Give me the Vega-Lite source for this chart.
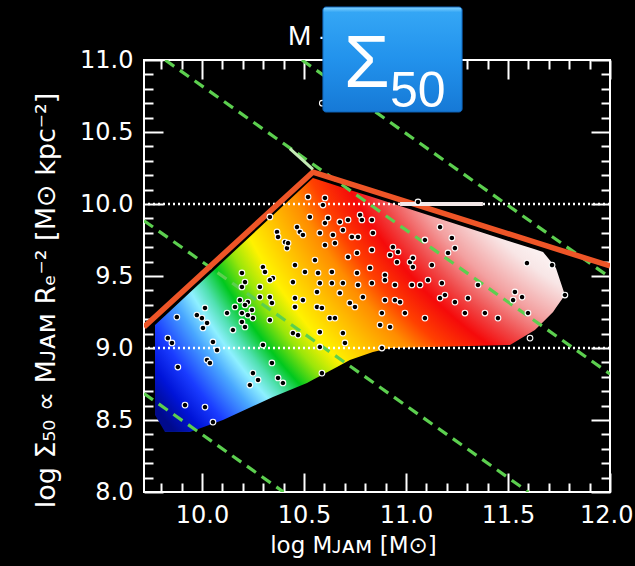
{
  "$schema": "https://vega.github.io/schema/vega-lite/v6.json",
  "width": 466,
  "height": 432,
  "autosize": "none",
  "padding": {"left": 144, "top": 60, "right": 25, "bottom": 74},
  "background": "black",
  "config": {
    "view": {"stroke": "white", "strokeWidth": 2},
    "axis": {
      "domain": false,
      "grid": false,
      "tickColor": "white",
      "tickWidth": 2,
      "labelColor": "white",
      "labelFont": "DejaVu Sans",
      "labelFontSize": 24,
      "labelOverlap": false,
      "labelBound": false,
      "labelFlush": false,
      "titleColor": "white",
      "titleFont": "DejaVu Sans",
      "titleFontWeight": "normal"
    }
  },
  "datasets": {
    "region": [
      {"x": 9.770, "top": 9.160, "bottom": 8.535},
      {"x": 9.819, "top": 9.224, "bottom": 8.417},
      {"x": 9.941, "top": 9.386, "bottom": 8.417},
      {"x": 10.103, "top": 9.599, "bottom": 8.500},
      {"x": 10.348, "top": 9.922, "bottom": 8.660},
      {"x": 10.515, "top": 10.142, "bottom": 8.757},
      {"x": 10.544, "top": 10.181, "bottom": 8.779},
      {"x": 10.662, "top": 10.127, "bottom": 8.868},
      {"x": 10.725, "top": 10.098, "bottom": 8.917},
      {"x": 10.838, "top": 10.047, "bottom": 8.972},
      {"x": 10.922, "top": 10.008, "bottom": 9.000},
      {"x": 11.510, "top": 9.740, "bottom": 9.021},
      {"x": 11.632, "top": 9.685, "bottom": 9.125},
      {"x": 11.672, "top": 9.667, "bottom": 9.181},
      {"x": 11.721, "top": 9.581, "bottom": 9.250},
      {"x": 11.735, "top": 9.556, "bottom": 9.280},
      {"x": 11.779, "top": 9.368, "bottom": 9.368}
    ],
    "guides": [
      {"g": "A", "x": 9.82, "y": 11.0}, {"g": "A", "x": 12.0, "y": 8.82},
      {"g": "B", "x": 10.49, "y": 11.0}, {"g": "B", "x": 12.0, "y": 9.49},
      {"g": "C", "x": 9.716, "y": 9.884}, {"g": "C", "x": 11.6, "y": 8.0},
      {"g": "D", "x": 9.716, "y": 8.684}, {"g": "D", "x": 10.4, "y": 8.0}
    ],
    "boundary": [
      {"x": 9.716, "y": 9.146},
      {"x": 10.544, "y": 10.222},
      {"x": 12.0, "y": 9.57}
    ],
    "ridge": [
      {"x": 10.431, "y": 10.385},
      {"x": 10.544, "y": 10.24}
    ],
    "levels": [{"y": 9.0}, {"y": 10.0}],
    "bar": [{"x": 10.971, "x2": 11.377, "y": 10.0}],
    "galaxies": [
      {"x": 10.333, "y": 9.910}, {"x": 10.368, "y": 9.806}, {"x": 10.373, "y": 9.771}, {"x": 10.407, "y": 9.736},
      {"x": 10.417, "y": 9.694}, {"x": 10.299, "y": 9.562}, {"x": 10.309, "y": 9.528}, {"x": 10.348, "y": 9.486},
      {"x": 10.333, "y": 9.472}, {"x": 10.284, "y": 9.424}, {"x": 10.196, "y": 9.521}, {"x": 10.211, "y": 9.458},
      {"x": 10.196, "y": 9.424}, {"x": 10.284, "y": 9.354}, {"x": 10.333, "y": 9.354}, {"x": 10.343, "y": 9.313},
      {"x": 10.186, "y": 9.333}, {"x": 10.225, "y": 9.319}, {"x": 10.162, "y": 9.285}, {"x": 10.211, "y": 9.299},
      {"x": 10.245, "y": 9.264}, {"x": 10.196, "y": 9.243}, {"x": 10.123, "y": 9.243}, {"x": 10.225, "y": 9.229},
      {"x": 10.250, "y": 9.208}, {"x": 10.333, "y": 9.194}, {"x": 10.196, "y": 9.181}, {"x": 10.211, "y": 9.146},
      {"x": 10.152, "y": 9.125}, {"x": 10.015, "y": 9.278}, {"x": 9.975, "y": 9.229}, {"x": 10.000, "y": 9.208},
      {"x": 10.025, "y": 9.174}, {"x": 10.005, "y": 9.139}, {"x": 9.877, "y": 9.215}, {"x": 9.833, "y": 9.069},
      {"x": 9.853, "y": 9.035}, {"x": 10.054, "y": 9.042}, {"x": 10.074, "y": 8.986}, {"x": 10.025, "y": 8.917},
      {"x": 10.039, "y": 8.896}, {"x": 9.882, "y": 8.868}, {"x": 10.343, "y": 8.896}, {"x": 10.250, "y": 8.826},
      {"x": 10.275, "y": 8.778}, {"x": 10.235, "y": 8.743}, {"x": 10.373, "y": 8.792}, {"x": 10.397, "y": 8.757},
      {"x": 9.917, "y": 8.604}, {"x": 10.015, "y": 8.590}, {"x": 10.054, "y": 8.486}, {"x": 10.299, "y": 9.021},
      {"x": 10.520, "y": 10.049}, {"x": 10.603, "y": 10.042}, {"x": 10.593, "y": 9.993}, {"x": 10.529, "y": 9.910},
      {"x": 10.618, "y": 9.903}, {"x": 10.603, "y": 9.868}, {"x": 10.676, "y": 9.875}, {"x": 10.716, "y": 9.889},
      {"x": 10.775, "y": 9.924}, {"x": 10.784, "y": 9.889}, {"x": 10.833, "y": 9.889}, {"x": 10.466, "y": 9.840},
      {"x": 10.480, "y": 9.806}, {"x": 10.495, "y": 9.785}, {"x": 10.578, "y": 9.799}, {"x": 10.642, "y": 9.785},
      {"x": 10.691, "y": 9.819}, {"x": 10.735, "y": 9.771}, {"x": 10.765, "y": 9.771}, {"x": 10.838, "y": 9.799},
      {"x": 10.422, "y": 9.729}, {"x": 10.603, "y": 9.715}, {"x": 10.652, "y": 9.729}, {"x": 10.716, "y": 9.632},
      {"x": 10.760, "y": 9.660}, {"x": 10.833, "y": 9.681}, {"x": 10.936, "y": 9.701}, {"x": 10.961, "y": 9.667},
      {"x": 10.922, "y": 9.646}, {"x": 10.554, "y": 9.611}, {"x": 10.956, "y": 9.597}, {"x": 11.020, "y": 9.597},
      {"x": 11.034, "y": 9.562}, {"x": 10.456, "y": 9.576}, {"x": 10.505, "y": 9.528}, {"x": 10.569, "y": 9.521},
      {"x": 10.637, "y": 9.528}, {"x": 10.760, "y": 9.521}, {"x": 10.824, "y": 9.556}, {"x": 10.897, "y": 9.507},
      {"x": 10.897, "y": 9.472}, {"x": 10.446, "y": 9.458}, {"x": 10.578, "y": 9.451}, {"x": 10.637, "y": 9.451},
      {"x": 10.691, "y": 9.451}, {"x": 10.765, "y": 9.438}, {"x": 10.833, "y": 9.451}, {"x": 10.946, "y": 9.438},
      {"x": 11.029, "y": 9.438}, {"x": 10.564, "y": 9.389}, {"x": 10.676, "y": 9.382}, {"x": 10.789, "y": 9.354},
      {"x": 10.456, "y": 9.347}, {"x": 10.495, "y": 9.333}, {"x": 10.897, "y": 9.333}, {"x": 10.946, "y": 9.333},
      {"x": 10.971, "y": 9.319}, {"x": 10.456, "y": 9.285}, {"x": 10.564, "y": 9.285}, {"x": 10.588, "y": 9.278},
      {"x": 10.725, "y": 9.313}, {"x": 10.750, "y": 9.285}, {"x": 10.627, "y": 9.208}, {"x": 10.652, "y": 9.208},
      {"x": 10.446, "y": 9.104}, {"x": 10.471, "y": 9.090}, {"x": 10.578, "y": 9.111}, {"x": 10.691, "y": 9.104},
      {"x": 10.701, "y": 9.035}, {"x": 10.578, "y": 9.007}, {"x": 10.882, "y": 9.243}, {"x": 10.995, "y": 9.243},
      {"x": 10.873, "y": 9.160}, {"x": 10.922, "y": 9.146}, {"x": 10.882, "y": 9.000}, {"x": 10.588, "y": 8.826},
      {"x": 11.059, "y": 10.014}, {"x": 11.167, "y": 9.840}, {"x": 11.093, "y": 9.750}, {"x": 11.225, "y": 9.764},
      {"x": 11.240, "y": 9.694}, {"x": 11.206, "y": 9.660}, {"x": 11.127, "y": 9.576}, {"x": 11.593, "y": 9.590},
      {"x": 11.716, "y": 9.576}, {"x": 11.108, "y": 9.472}, {"x": 11.069, "y": 9.438}, {"x": 11.176, "y": 9.451},
      {"x": 11.167, "y": 9.347}, {"x": 11.191, "y": 9.368}, {"x": 11.240, "y": 9.319}, {"x": 11.304, "y": 9.347},
      {"x": 11.289, "y": 9.243}, {"x": 11.387, "y": 9.243}, {"x": 11.451, "y": 9.208}, {"x": 11.093, "y": 9.208},
      {"x": 11.534, "y": 9.389}, {"x": 11.525, "y": 9.333}, {"x": 11.569, "y": 9.354}, {"x": 11.779, "y": 9.368},
      {"x": 11.598, "y": 9.243}, {"x": 11.608, "y": 9.069}, {"x": 11.353, "y": 9.438}, {"x": 11.034, "y": 9.625},
      {"x": 10.590, "y": 10.700}
    ],
    "badge": [{"x": 10.593, "x2": 11.275, "y": 11.368, "y2": 10.639}],
    "sigma": [{"x": 10.696, "y": 10.8125, "t": "Σ"}],
    "sub": [{"x": 10.922, "y": 10.674, "t": "50"}],
    "heading": [{"x": 10.422, "y": 11.104, "t": "M -"}]
  },
  "layer": [
    {
      "data": {"name": "region"},
      "mark": {
        "type": "area",
        "color": {
          "gradient": "radial",
          "x1": 1.456, "y1": -0.32, "r1": 0,
          "x2": 1.456, "y2": -0.32, "r2": 1.805,
          "stops": [
            {"offset": 0.45, "color": "#ffffff"},
            {"offset": 0.50, "color": "#f8e6e6"},
            {"offset": 0.55, "color": "#f3a0a0"},
            {"offset": 0.59, "color": "#f04848"},
            {"offset": 0.62, "color": "#f50a0a"},
            {"offset": 0.66, "color": "#ff4000"},
            {"offset": 0.69, "color": "#ff8c00"},
            {"offset": 0.73, "color": "#ffc000"},
            {"offset": 0.77, "color": "#fff200"},
            {"offset": 0.80, "color": "#9ae60a"},
            {"offset": 0.83, "color": "#00c81e"},
            {"offset": 0.855, "color": "#50e0b0"},
            {"offset": 0.875, "color": "#8ef0ff"},
            {"offset": 0.90, "color": "#4aa8ff"},
            {"offset": 0.94, "color": "#1a3cff"},
            {"offset": 0.97, "color": "#0014d8"},
            {"offset": 1.0, "color": "#000a8c"}
          ]
        }
      },
      "encoding": {
        "x": {
          "field": "x", "type": "quantitative",
          "scale": {"domain": [9.716, 12.0], "nice": false, "zero": false},
          "axis": {
            "orient": "bottom",
            "values": [10, 10.5, 11, 11.5, 12],
            "format": ".1f",
            "tickSize": -19,
            "labelPadding": 30,
            "labelFlush": 1,
            "labelFlushOffset": 23,
            "title": "log Mᴊᴀᴍ [M⊙]",
            "titleFontSize": 23,
            "titleX": 209,
            "titleY": 60,
            "titleAlign": "center",
            "titleBaseline": "alphabetic"
          }
        },
        "y": {
          "field": "top", "type": "quantitative",
          "scale": {"domain": [8, 11], "nice": false, "zero": false},
          "axis": {
            "orient": "left",
            "values": [8, 8.5, 9, 9.5, 10, 10.5, 11],
            "format": ".1f",
            "tickSize": -19,
            "labelPadding": 30,
            "title": "log Σ₅₀ ∝ Mᴊᴀᴍ Rₑ⁻²  [M⊙ kpc⁻²]",
            "titleFontSize": 27,
            "titleAngle": -90,
            "titleX": -90,
            "titleY": 240,
            "titleAlign": "center",
            "titleBaseline": "alphabetic"
          }
        },
        "y2": {"field": "bottom"}
      }
    },
    {
      "data": {"name": "levels"},
      "mark": {"type": "rule", "color": "white", "strokeWidth": 2.5, "strokeDash": [2, 3]},
      "encoding": {
        "y": {"field": "y", "type": "quantitative", "scale": {"domain": [8, 11], "nice": false, "zero": false}, "axis": null}
      }
    },
    {
      "data": {"name": "guides"},
      "mark": {"type": "line", "color": "#5ccf4f", "strokeWidth": 3.2, "strokeDash": [11, 7], "clip": true},
      "encoding": {
        "detail": {"field": "g"},
        "x": {
          "field": "x", "type": "quantitative",
          "scale": {"domain": [9.716, 12.0], "nice": false, "zero": false},
          "axis": {
            "orient": "bottom",
            "values": [9.8, 9.9, 10.1, 10.2, 10.3, 10.4, 10.6, 10.7, 10.8, 10.9, 11.1, 11.2, 11.3, 11.4, 11.6, 11.7, 11.8, 11.9],
            "tickSize": -9,
            "labels": false,
            "title": null
          }
        },
        "y": {
          "field": "y", "type": "quantitative",
          "scale": {"domain": [8, 11], "nice": false, "zero": false},
          "axis": {
            "orient": "left",
            "values": [8.1, 8.2, 8.3, 8.4, 8.6, 8.7, 8.8, 8.9, 9.1, 9.2, 9.3, 9.4, 9.6, 9.7, 9.8, 9.9, 10.1, 10.2, 10.3, 10.4, 10.6, 10.7, 10.8, 10.9],
            "tickSize": -9,
            "labels": false,
            "title": null
          }
        }
      }
    },
    {
      "data": {"name": "boundary"},
      "mark": {"type": "line", "color": "#ee5527", "strokeWidth": 5.5, "clip": true},
      "encoding": {
        "x": {
          "field": "x", "type": "quantitative",
          "scale": {"domain": [9.716, 12.0], "nice": false, "zero": false},
          "axis": {"orient": "top", "values": [10, 10.5, 11, 11.5, 12], "tickSize": -19, "labels": false, "title": null}
        },
        "y": {
          "field": "y", "type": "quantitative",
          "scale": {"domain": [8, 11], "nice": false, "zero": false},
          "axis": {"orient": "right", "values": [8, 8.5, 9, 9.5, 10, 10.5, 11], "tickSize": -19, "labels": false, "title": null}
        }
      }
    },
    {
      "data": {"name": "ridge"},
      "mark": {"type": "line", "color": "#c4eab4", "strokeWidth": 3},
      "encoding": {
        "x": {"field": "x", "type": "quantitative", "scale": {"domain": [9.716, 12.0], "nice": false, "zero": false}, "axis": null},
        "y": {"field": "y", "type": "quantitative", "scale": {"domain": [8, 11], "nice": false, "zero": false}, "axis": null}
      }
    },
    {
      "data": {"name": "bar"},
      "mark": {"type": "rule", "color": "#f3e8e8", "strokeWidth": 4},
      "encoding": {
        "x": {"field": "x", "type": "quantitative", "scale": {"domain": [9.716, 12.0], "nice": false, "zero": false}, "axis": null},
        "x2": {"field": "x2"},
        "y": {"field": "y", "type": "quantitative", "scale": {"domain": [8, 11], "nice": false, "zero": false}, "axis": null}
      }
    },
    {
      "data": {"name": "galaxies"},
      "mark": {"type": "point", "shape": "circle", "filled": true, "color": "black", "stroke": "white", "strokeWidth": 1.1, "size": 32, "opacity": 1},
      "encoding": {
        "x": {
          "field": "x", "type": "quantitative",
          "scale": {"domain": [9.716, 12.0], "nice": false, "zero": false},
          "axis": {
            "orient": "top",
            "values": [9.8, 9.9, 10.1, 10.2, 10.3, 10.4, 10.6, 10.7, 10.8, 10.9, 11.1, 11.2, 11.3, 11.4, 11.6, 11.7, 11.8, 11.9],
            "tickSize": -9,
            "labels": false,
            "title": null
          }
        },
        "y": {
          "field": "y", "type": "quantitative",
          "scale": {"domain": [8, 11], "nice": false, "zero": false},
          "axis": {
            "orient": "right",
            "values": [8.1, 8.2, 8.3, 8.4, 8.6, 8.7, 8.8, 8.9, 9.1, 9.2, 9.3, 9.4, 9.6, 9.7, 9.8, 9.9, 10.1, 10.2, 10.3, 10.4, 10.6, 10.7, 10.8, 10.9],
            "tickSize": -9,
            "labels": false,
            "title": null
          }
        }
      }
    },
    {
      "data": {"name": "heading"},
      "mark": {"type": "text", "color": "white", "font": "Liberation Sans", "fontSize": 28, "align": "left", "baseline": "alphabetic"},
      "encoding": {
        "x": {"field": "x", "type": "quantitative", "scale": {"domain": [9.716, 12.0], "nice": false, "zero": false}, "axis": null},
        "y": {"field": "y", "type": "quantitative", "scale": {"domain": [8, 11], "nice": false, "zero": false}, "axis": null},
        "text": {"field": "t"}
      }
    },
    {
      "data": {"name": "badge"},
      "mark": {
        "type": "rect",
        "cornerRadius": 3,
        "stroke": "#0f63b8",
        "strokeWidth": 1,
        "color": {
          "gradient": "linear",
          "x1": 0, "y1": 0, "x2": 0, "y2": 1,
          "stops": [
            {"offset": 0.0, "color": "#86d4ff"},
            {"offset": 0.05, "color": "#34a6f5"},
            {"offset": 0.5, "color": "#2292ec"},
            {"offset": 1.0, "color": "#1679d6"}
          ]
        }
      },
      "encoding": {
        "x": {"field": "x", "type": "quantitative", "scale": {"domain": [9.716, 12.0], "nice": false, "zero": false}, "axis": null},
        "x2": {"field": "x2"},
        "y": {"field": "y", "type": "quantitative", "scale": {"domain": [8, 11], "nice": false, "zero": false}, "axis": null},
        "y2": {"field": "y2"}
      }
    },
    {
      "data": {"name": "sigma"},
      "mark": {"type": "text", "color": "white", "font": "Liberation Sans", "fontSize": 74, "align": "left", "baseline": "alphabetic"},
      "encoding": {
        "x": {"field": "x", "type": "quantitative", "scale": {"domain": [9.716, 12.0], "nice": false, "zero": false}, "axis": null},
        "y": {"field": "y", "type": "quantitative", "scale": {"domain": [8, 11], "nice": false, "zero": false}, "axis": null},
        "text": {"field": "t"}
      }
    },
    {
      "data": {"name": "sub"},
      "mark": {"type": "text", "color": "white", "font": "Liberation Sans", "fontSize": 50, "align": "left", "baseline": "alphabetic"},
      "encoding": {
        "x": {"field": "x", "type": "quantitative", "scale": {"domain": [9.716, 12.0], "nice": false, "zero": false}, "axis": null},
        "y": {"field": "y", "type": "quantitative", "scale": {"domain": [8, 11], "nice": false, "zero": false}, "axis": null},
        "text": {"field": "t"}
      }
    }
  ],
  "resolve": {"axis": {"x": "independent", "y": "independent"}}
}
